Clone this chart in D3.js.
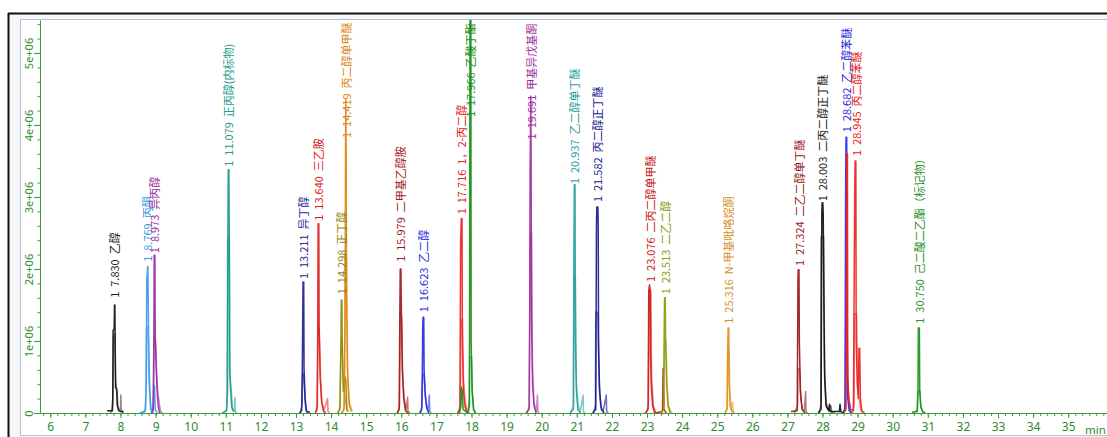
<!DOCTYPE html>
<html>
<head>
<meta charset="utf-8">
<script src="https://cdn.jsdelivr.net/npm/d3@7"></script>
<style>
  html, body { margin: 0; padding: 0; background: #ffffff; }
  svg { display: block; }
  .peak-label { font-family: "Noto Sans CJK SC", "Noto Sans", sans-serif; font-size: 11px; white-space: pre; }
  .x-tick text { font-family: "Noto Sans", "Open Sans", sans-serif; font-size: 12px; }
  .y-tick text { font-family: "Noto Sans", "Open Sans", sans-serif; font-size: 11px; }
</style>
</head>
<body>
<svg id="chart" width="1107" height="437"></svg>
<script>
// Retention times (min), compound names and where each peak label starts (×1e6 counts)
const retentionTimes = [7.830, 8.769, 8.973, 11.079, 13.211, 13.640, 14.298, 14.419, 15.979, 16.623,
  17.716, 17.966, 19.691, 20.937, 21.582, 23.076, 23.513, 25.316, 27.324, 28.003, 28.682, 28.945, 30.750];
const compoundNames = ["乙醇", "丙酮", "异丙醇", "正丙醇(内标物)", "异丁醇", "三乙胺", "正丁醇", "丙二醇单甲醚",
  "二甲基乙醇胺", "乙二醇", "1，2-丙二醇", "乙酸丁酯", "甲基异戊基酮", "乙二醇单丁醚", "丙二醇正丁醚",
  "二丙二醇单甲醚", "二乙二醇", "N-甲基吡咯烷酮", "二乙二醇单丁醚", "二丙二醇正丁醚", "乙二醇苯醚",
  "丙二醇苯醚", "己二酸二乙酯（标记物）"];
const labelLevels = [1.6, 2.1, 2.22, 3.42, 1.86, 2.67, 1.65, 3.82, 2.1, 1.4, 2.76, 4.11, 3.8, 3.18, 2.93,
  1.82, 1.65, 1.24, 2.04, 2.94, 3.9, 3.57, 1.24];

// Main detector trace for each compound: [time (min), signal (×1e6)]
const mainTraces = [
  [[7.62,0.03],[7.76,0.03],[7.78,0.2],[7.79,1.15],[7.82,1.16],[7.83,1.5],[7.84,1.5],[7.85,0.9],[7.86,0.35],[7.89,0.33],[7.91,0.1],[7.95,0.03],[8.08,0.01]],
  [[8.55,0],[8.70,0.02],[8.73,0.3],[8.75,1.9],[8.76,1.9],[8.77,2.03],[8.78,2.03],[8.80,1.1],[8.83,0.4],[8.86,0.05],[8.93,0.03],[8.95,0.38],[8.97,0.38],[8.99,0.05],[9.05,0]],
  [[8.88,0],[8.93,0.05],[8.95,1.0],[8.96,2.19],[8.98,2.19],[8.99,1.05],[9.02,0.6],[9.05,0.25],[9.08,0.08],[9.12,0]],
  [[10.90,0],[11.02,0.03],[11.05,0.3],[11.06,2.5],[11.07,3.38],[11.09,3.38],[11.10,2.4],[11.11,0.6],[11.14,0.3],[11.17,0.08],[11.22,0.02]],
  [[13.10,0],[13.16,0.03],[13.18,0.6],[13.20,1.82],[13.22,1.82],[13.23,0.6],[13.26,0.2],[13.30,0.02],[13.40,0.01]],
  [[13.55,0],[13.60,0.05],[13.62,1.2],[13.63,2.63],[13.65,2.63],[13.66,1.2],[13.69,0.5],[13.73,0.15],[13.78,0.03],[13.85,0]],
  [[14.18,0],[14.25,0.05],[14.28,1.0],[14.29,1.57],[14.31,1.57],[14.32,0.8],[14.35,0.3],[14.40,0.5],[14.42,0.45],[14.45,0.05],[14.50,0.02]],
  [[14.30,0],[14.37,0.05],[14.40,1.5],[14.41,3.63],[14.42,4.35],[14.43,3.63],[14.44,1.6],[14.47,0.5],[14.52,0.1],[14.58,0.02]],
  [[15.88,0],[15.94,0.05],[15.96,1.5],[15.97,2.0],[15.99,2.0],[16.00,1.5],[16.03,0.6],[16.07,0.2],[16.12,0.03],[16.20,0]],
  [[16.52,0],[16.58,0.05],[16.60,0.6],[16.61,1.18],[16.62,1.33],[16.64,1.33],[16.65,0.6],[16.68,0.25],[16.72,0.08],[16.78,0]],
  [[17.60,0],[17.67,0.05],[17.69,2.36],[17.71,2.7],[17.73,2.7],[17.74,1.0],[17.77,0.3],[17.82,0.08],[17.88,0]],
  [[17.66,0],[17.70,0.1],[17.71,0.36],[17.74,0.3],[17.76,0.05],[17.90,0],[17.94,0.1],[17.95,3.0],[17.96,6.5],[17.98,6.5],[17.99,1.0],[18.02,0.3],[18.06,0.05],[18.12,0]],
  [[19.55,0],[19.64,0.05],[19.66,1.5],[19.67,3.42],[19.69,4.4],[19.70,3.42],[19.71,1.3],[19.74,0.4],[19.78,0.1],[19.84,0]],
  [[20.80,0],[20.90,0.05],[20.92,2.5],[20.93,3.17],[20.95,3.17],[20.96,1.0],[20.99,0.3],[21.03,0.05],[21.10,0]],
  [[21.45,0],[21.54,0.05],[21.56,2.6],[21.57,2.86],[21.60,2.86],[21.61,2.6],[21.62,0.9],[21.65,0.3],[21.70,0.05],[21.78,0]],
  [[22.95,0],[23.03,0.05],[23.05,1.7],[23.07,1.78],[23.09,1.72],[23.10,0.8],[23.12,0.4],[23.16,0.1],[23.22,0],[23.44,0.02],[23.46,0.62],[23.48,0.05],[23.55,0]],
  [[23.40,0],[23.47,0.05],[23.49,1.1],[23.50,1.6],[23.52,1.6],[23.53,1.0],[23.56,0.4],[23.60,0.1],[23.66,0]],
  [[25.22,0],[25.28,0.05],[25.30,0.9],[25.31,1.18],[25.33,1.18],[25.34,0.4],[25.37,0.1],[25.42,0.02],[25.48,0]],
  [[27.10,0.02],[27.28,0.03],[27.30,1.85],[27.31,1.99],[27.33,1.99],[27.34,1.0],[27.37,0.3],[27.42,0.05],[27.50,0]],
  [[27.88,0],[27.96,0.05],[27.98,2.78],[27.99,2.92],[28.01,2.92],[28.02,2.78],[28.04,1.5],[28.06,0.5],[28.10,0.1],[28.18,0.03],[28.20,0.12],[28.22,0.02],[28.48,0.02],[28.50,0.12],[28.52,0.02],[28.60,0]],
  [[28.58,0],[28.64,0.05],[28.66,3.2],[28.67,3.83],[28.69,3.83],[28.70,0.6],[28.72,0.2],[28.76,0.03],[28.82,0]],
  [[28.60,0],[28.67,0.05],[28.69,3.6],[28.71,3.6],[28.72,0.5],[28.75,0.2],[28.80,0.05],[28.88,0.03],[28.92,3.2],[28.93,3.5],[28.95,3.5],[28.96,1.0],[28.99,0.4],[29.02,0.2],[29.04,0.9],[29.06,0.9],[29.08,0.2],[29.12,0.03],[29.20,0]],
  [[30.55,0.01],[30.70,0.02],[30.72,0.3],[30.73,1.18],[30.76,1.18],[30.77,0.3],[30.80,0.08],[30.85,0.02],[30.92,0]]
];

// Overlaid replicate trace for each compound: [time (min), signal (×1e6)]
const replicateTraces = [
  [[7.70,0],[7.78,0.04],[7.80,1.05],[7.84,1.1],[7.86,0.45],[7.90,0.3],[7.93,0.08],[8.00,0.04],[8.01,0.25],[8.02,0.04],[8.10,0.02]],
  [[8.60,0],[8.72,0.05],[8.74,1.15],[8.78,1.2],[8.80,0.5],[8.84,0.2],[8.88,0.03],[8.95,0]],
  [[8.90,0],[8.94,0.1],[8.96,1.04],[9.00,1.0],[9.03,0.55],[9.06,0.3],[9.10,0.15],[9.14,0.02],[9.20,0]],
  [[10.95,0],[11.03,0.05],[11.05,2.4],[11.10,2.45],[11.12,0.5],[11.16,0.3],[11.19,0.05],[11.24,0.02],[11.26,0.22],[11.27,0.02],[11.32,0]],
  [[13.12,0],[13.17,0.1],[13.19,0.55],[13.22,0.55],[13.25,0.25],[13.28,0.05],[13.34,0]],
  [[13.55,0],[13.61,0.1],[13.63,1.2],[13.66,1.15],[13.70,0.45],[13.74,0.15],[13.80,0.04],[13.90,0.2],[13.91,0.03],[13.95,0]],
  [[14.20,0],[14.26,0.1],[14.28,1.0],[14.32,1.0],[14.35,0.4],[14.40,0.2],[14.46,0.02]],
  [[14.32,0],[14.38,0.1],[14.40,2.2],[14.44,2.2],[14.47,0.6],[14.52,0.15],[14.60,0.02]],
  [[15.90,0],[15.95,0.1],[15.97,1.4],[16.01,1.35],[16.04,0.5],[16.08,0.2],[16.14,0.05],[16.18,0.22],[16.19,0.03],[16.24,0]],
  [[16.55,0],[16.59,0.1],[16.61,0.55],[16.65,0.55],[16.68,0.3],[16.72,0.1],[16.76,0.03],[16.80,0.25],[16.81,0.02],[16.85,0]],
  [[17.62,0],[17.68,0.1],[17.70,1.3],[17.74,1.3],[17.77,0.5],[17.82,0.15],[17.88,0.03],[17.94,0]],
  [[17.90,0],[17.94,0.2],[17.95,0.78],[18.00,0.78],[18.02,0.3],[18.06,0.05],[18.10,0]],
  [[19.58,0],[19.65,0.1],[19.67,2.5],[19.71,2.5],[19.74,0.6],[19.78,0.15],[19.85,0.02],[19.88,0.25],[19.89,0.02],[19.92,0]],
  [[20.82,0],[20.91,0.1],[20.92,1.9],[20.96,1.9],[20.99,0.4],[21.04,0.1],[21.10,0.02],[21.18,0.25],[21.19,0.02],[21.24,0]],
  [[21.47,0],[21.53,0.1],[21.54,1.4],[21.60,1.4],[21.64,0.4],[21.68,0.1],[21.75,0.02],[21.84,0.25],[21.85,0.02],[21.90,0]],
  [[22.98,0],[23.04,0.1],[23.06,1.7],[23.11,1.7],[23.13,0.5],[23.18,0.1],[23.25,0]],
  [[23.42,0],[23.48,0.1],[23.50,1.0],[23.54,1.0],[23.57,0.4],[23.61,0.1],[23.68,0.02],[23.72,0]],
  [[25.24,0],[25.29,0.08],[25.30,0.9],[25.34,0.85],[25.36,0.3],[25.40,0.05],[25.44,0.15],[25.45,0.02],[25.50,0]],
  [[27.20,0],[27.29,0.1],[27.30,0.62],[27.35,0.6],[27.38,0.2],[27.43,0.05],[27.48,0.02],[27.52,0.3],[27.53,0.02],[27.58,0]],
  [[27.90,0],[27.95,0.1],[27.96,2.45],[28.03,2.45],[28.06,0.6],[28.10,0.15],[28.16,0.05],[28.24,0.1],[28.26,0],[28.35,0]],
  [[28.60,0],[28.65,0.1],[28.66,1.2],[28.70,1.2],[28.73,0.3],[28.78,0.05],[28.84,0]],
  [[28.85,0],[28.90,0.1],[28.91,1.38],[28.97,1.38],[29.00,0.5],[29.04,0.2],[29.10,0.03],[29.16,0]],
  [[30.62,0],[30.70,0.05],[30.71,0.3],[30.78,0.3],[30.80,0.1],[30.86,0.02],[30.92,0]]
];

const xTickValues = d3.range(6, 36);
const yTickValues = [0, 1, 2, 3, 4, 5];
const yTickLabels = ["0", "1e+06", "2e+06", "3e+06", "4e+06", "5e+06"];
const xAxisTitle = "min";

// Colours per compound: trace, replicate tint, label
const traceColors = ["#111111", "#3a9be8", "#9a2a9a", "#1f9a8a", "#20208c", "#e02020", "#8c8c0c", "#e08410",
  "#a01a1a", "#2a2ae0", "#ee2222", "#138f13", "#a030a0", "#2aa0a0", "#1a1a90", "#d01a1a", "#8a9a10",
  "#e0901a", "#9a1818", "#111111", "#2a2ae8", "#ee2020", "#1a901a"];
const tintColors = ["#8a8a8a", "#8cc4f0", "#c77cc7", "#7cc8bd", "#7070c0", "#f08080", "#c0c060", "#f0b870",
  "#d07070", "#8080f0", "#f48080", "#70c070", "#cc80cc", "#80c8c8", "#7070c0", "#e87070", "#c0c860",
  "#f0c070", "#b87878", "#7a7a7a", "#8080f0", "#f08080", "#70c070"];
const labelColors = ["#222222", "#3a9be0", "#a030a0", "#2a9a8a", "#2a2a90", "#d82020", "#8a8a10", "#d88a20",
  "#a01c1c", "#2a2ae0", "#e82020", "#1a901a", "#a030a0", "#2aa0a0", "#1a1a90", "#c81a1a", "#8a9a10",
  "#d8902a", "#9a1818", "#222222", "#2a2ae0", "#e82020", "#2a902a"];

const W = 1107, H = 437;
const plot = { left: 40, right: 1107, top: 20, bottom: 413 };
const axisColor = "#3c9c3c";

const svg = d3.select("#chart");

// Window frame
svg.append("rect").attr("x", 8).attr("y", 13).attr("width", W).attr("height", H)
  .attr("fill", "#f4f6fa");
svg.append("rect").attr("x", 20.5).attr("y", 19.5).attr("width", W).attr("height", 416)
  .attr("fill", "#ffffff").attr("stroke", "#b6bfcc").attr("stroke-width", 1);
svg.append("line").attr("x1", 8).attr("x2", W).attr("y1", 13.5).attr("y2", 13.5)
  .attr("stroke", "#111").attr("stroke-width", 2);
svg.append("line").attr("x1", 8.5).attr("x2", 8.5).attr("y1", 13).attr("y2", H)
  .attr("stroke", "#111").attr("stroke-width", 2);

const x = d3.scaleLinear().domain([5.707, 36.105]).range([plot.left, plot.right]);
const y = d3.scaleLinear().domain([0, 5.458]).range([plot.bottom, plot.top]);

svg.append("clipPath").attr("id", "plot-clip")
  .append("rect").attr("x", plot.left + 1).attr("y", plot.top)
  .attr("width", plot.right - plot.left).attr("height", plot.bottom - plot.top);

// X axis: minor ticks every 0.2 min, major ticks with labels every minute
const xAxisG = svg.append("g").attr("transform", `translate(0,${plot.bottom})`);
xAxisG.append("g")
  .call(d3.axisBottom(x).tickValues(d3.range(5.8, 36.1, 0.2)).tickSize(3).tickSizeOuter(0).tickFormat(""))
  .call(g => g.select(".domain").remove())
  .call(g => g.selectAll("line").attr("stroke", axisColor));
xAxisG.append("g").attr("class", "x-tick")
  .call(d3.axisBottom(x).tickValues(xTickValues).tickSize(5).tickPadding(4).tickSizeOuter(0).tickFormat(d3.format("d")))
  .call(g => g.select(".domain").attr("stroke", axisColor))
  .call(g => g.selectAll("line").attr("stroke", axisColor))
  .call(g => g.selectAll("text").attr("fill", "#2e8a2e"));
xAxisG.append("text")
  .attr("x", 1085).attr("y", 13).attr("dy", "0.71em")
  .attr("fill", "#2e8a2e").attr("font-family", "Noto Sans, sans-serif").attr("font-size", 11.5)
  .text(xAxisTitle);

// Y axis: minor ticks every 0.2e6, major ticks with rotated labels
const yAxisG = svg.append("g").attr("transform", `translate(${plot.left},0)`);
yAxisG.append("g")
  .call(d3.axisLeft(y).tickValues(d3.range(0.2, 5.45, 0.2)).tickSize(2.5).tickSizeOuter(0).tickFormat(""))
  .call(g => g.select(".domain").remove())
  .call(g => g.selectAll("line").attr("stroke", axisColor));
yAxisG.append("g").attr("class", "y-tick")
  .call(d3.axisLeft(y).tickValues(yTickValues).tickSize(6).tickSizeOuter(0)
    .tickFormat((d, i) => yTickLabels[i]))
  .call(g => g.select(".domain").attr("stroke", axisColor))
  .call(g => g.selectAll("line").attr("stroke", axisColor))
  .call(g => g.selectAll("text")
    .attr("fill", "#2e8a2e")
    .attr("transform", "rotate(-90)")
    .attr("x", 0).attr("y", -7).attr("dy", null)
    .attr("text-anchor", "middle"));

// Chromatogram traces
const line = d3.line().x(d => x(d[0])).y(d => y(d[1]));
const traceG = svg.append("g").attr("clip-path", "url(#plot-clip)");

traceG.selectAll("path.replicate")
  .data(replicateTraces)
  .join("path")
  .attr("class", "replicate")
  .attr("d", line)
  .attr("fill", "none")
  .attr("stroke", (d, i) => tintColors[i])
  .attr("stroke-width", 1.5)
  .attr("stroke-linejoin", "round");

traceG.selectAll("path.main")
  .data(mainTraces)
  .join("path")
  .attr("class", "main")
  .attr("d", line)
  .attr("fill", "none")
  .attr("stroke", (d, i) => traceColors[i])
  .attr("stroke-width", 1.5)
  .attr("stroke-opacity", 0.92)
  .attr("stroke-linejoin", "round");

// Peak annotations: "1  RT  name", written upward from above each peak
const labelG = svg.append("g").attr("clip-path", "url(#plot-clip)");
labelG.selectAll("text")
  .data(retentionTimes)
  .join("text")
  .attr("class", "peak-label")
  .attr("transform", (d, i) => `translate(${x(d) + 1},${y(labelLevels[i])}) rotate(-90)`)
  .attr("dy", "0.35em")
  .attr("text-anchor", "start")
  .attr("fill", (d, i) => labelColors[i])
  .text((d, i) => `1  ${d.toFixed(3)}  ${compoundNames[i]}`);
</script>
</body>
</html>
